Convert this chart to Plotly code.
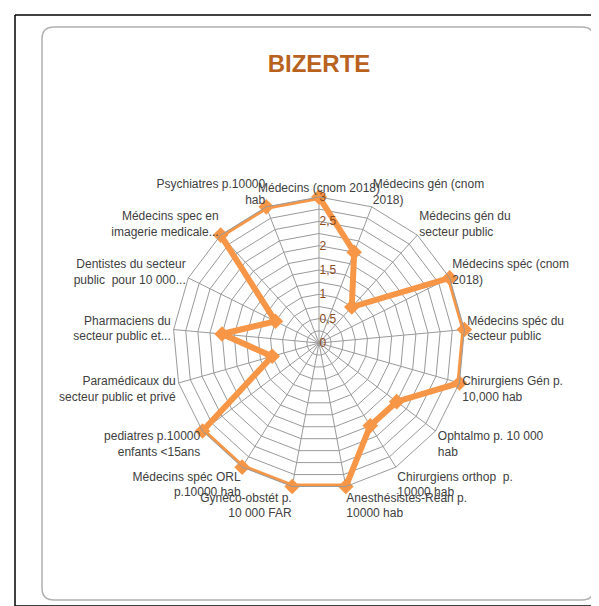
import plotly.graph_objects as go

# categories (angular axis, clockwise from the top)
categories = [
    "Médecins (cnom 2018)",
    "Médecins gén (cnom<br>2018)",
    "Médecins gén du<br>secteur public",
    "Médecins spéc (cnom<br>2018)",
    "Médecins spéc du<br>secteur public",
    "Chirurgiens Gén p.<br>10,000 hab",
    "Ophtalmo p. 10 000<br>hab",
    "Chirurgiens orthop  p.<br>10000 hab",
    "Anesthésistes-Réan p.<br>10000 hab",
    "Gynéco-obstét p.<br>10 000 FAR",
    "Médecins spéc ORL<br>p.10000 hab",
    "pediatres p.10000<br>enfants &lt;15ans",
    "Paramédicaux du<br>secteur public et privé",
    "Pharmaciens du<br>secteur public et...",
    "Dentistes du secteur<br>public  pour 10 000...",
    "Médecins spec en<br>imagerie medicale...",
    "Psychiatres p.10000<br>hab",
]
scores = [3, 2, 1, 3, 3, 3, 2, 2, 3, 3, 3, 3, 1, 2, 1, 3, 3]

radial_ticks = [0, 0.25, 0.5, 0.75, 1, 1.25, 1.5, 1.75, 2, 2.25, 2.5, 2.75, 3]
radial_labels = ["0", "", "0,5", "", "1", "", "1,5", "", "2", "", "2,5", "", "3"]

ORANGE = "#F79646"
GRID = "#9a9a9a"
FONT = "Liberation Sans, Arial, sans-serif"
W, H = 599, 606


def px(x):
    return x / W


def py(y):
    return 1 - y / H


fig = go.Figure()
fig.add_trace(
    go.Scatterpolar(
        r=scores + scores[:1],
        theta=categories + categories[:1],
        mode="lines+markers",
        line=dict(color=ORANGE, width=6),
        marker=dict(symbol="diamond", size=12, color=ORANGE),
        showlegend=False,
        hoverinfo="skip",
    )
)

cx, cy, rad = 311, 335, 146
fig.update_layout(
    width=W,
    height=H,
    margin=dict(l=0, r=0, t=0, b=0),
    paper_bgcolor="white",
    separators=", ",
    font=dict(family=FONT, color="#404040", size=12),
    polar=dict(
        domain=dict(x=[px(cx - rad), px(cx + rad)], y=[py(cy + rad), py(cy - rad)]),
        bgcolor="white",
        gridshape="linear",
        angularaxis=dict(
            direction="clockwise",
            rotation=90,
            showline=True,
            linecolor=GRID,
            linewidth=1,
            gridcolor=GRID,
            gridwidth=1,
            ticks="",
            tickfont=dict(family=FONT, size=12, color="#404040"),
        ),
        radialaxis=dict(
            range=[0, 3],
            angle=90,
            tickangle=90,
            side="clockwise",
            tickvals=radial_ticks,
            ticktext=radial_labels,
            showline=False,
            ticks="",
            gridcolor=GRID,
            gridwidth=1,
            tickfont=dict(family=FONT, size=12, color="#8B4A1C"),
        ),
    ),
    title=dict(
        text="<b>BIZERTE</b>",
        x=px(311),
        xanchor="center",
        y=py(56),
        yanchor="middle",
        font=dict(family=FONT, size=24, color="#B8621E"),
    ),
    shapes=[
        dict(type="line", xref="paper", yref="paper", x0=px(7), x1=1, y0=py(7), y1=py(7),
             line=dict(color="black", width=1.5)),
        dict(type="line", xref="paper", yref="paper", x0=px(7), x1=px(7), y0=py(7), y1=py(598),
             line=dict(color="black", width=1.5)),
        dict(type="line", xref="paper", yref="paper", x0=px(7), x1=1, y0=py(598), y1=py(598),
             line=dict(color="black", width=1.5)),
        dict(
            type="path",
            xref="paper",
            yref="paper",
            path=(
                f"M {px(46)},{py(19)} L {px(574)},{py(19)} Q {px(586)},{py(19)} {px(586)},{py(31)} "
                f"L {px(586)},{py(580)} Q {px(586)},{py(592)} {px(574)},{py(592)} "
                f"L {px(46)},{py(592)} Q {px(34)},{py(592)} {px(34)},{py(580)} "
                f"L {px(34)},{py(31)} Q {px(34)},{py(19)} {px(46)},{py(19)} Z"
            ),
            line=dict(color="#b0b0b0", width=1.5),
            layer="below",
        ),
    ],
)

fig.write_html("out.html")
